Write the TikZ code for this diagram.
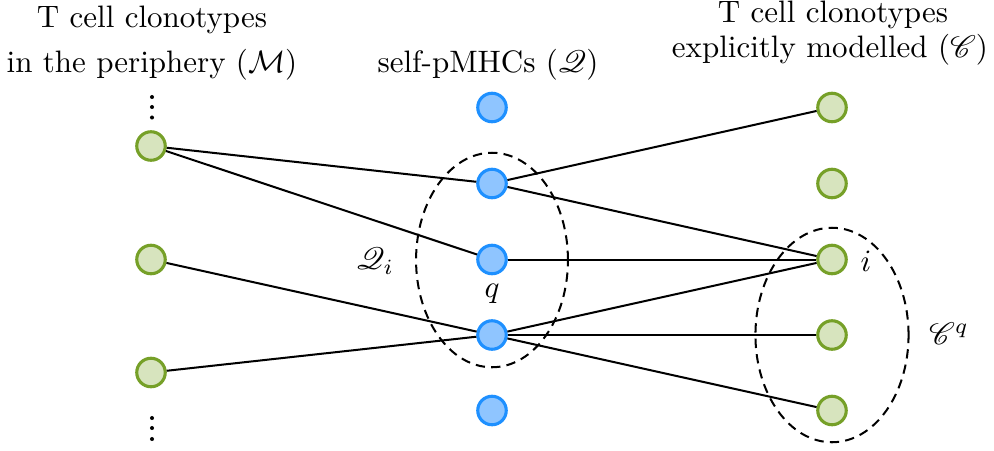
\documentclass[tikz,border=0pt]{standalone}
\usepackage{mathrsfs}
\definecolor{gfill}{RGB}{215,228,190}
\definecolor{gdraw}{RGB}{118,160,40}
\definecolor{bfill}{RGB}{143,197,255}
\definecolor{bdraw}{RGB}{30,144,255}
\tikzset{
  tnode/.style={circle, draw=gdraw, fill=gfill, line width=1pt, minimum size=9.2pt, inner sep=0pt},
  pnode/.style={circle, draw=bdraw, fill=bfill, line width=1pt, minimum size=9.2pt, inner sep=0pt},
  link/.style={line width=0.65pt, black},
  grp/.style={line width=0.65pt, dash pattern=on 3pt off 2pt},
  head/.style={anchor=base, inner sep=0pt, font=\fontsize{10pt}{12pt}\selectfont},
  lbl/.style={inner sep=0pt, font=\fontsize{10pt}{12pt}\selectfont},
  dotmark/.style={circle, fill=black, inner sep=0pt, minimum size=1.3pt}
}
\begin{document}
\begin{tikzpicture}[x=0.3226pt, y=-0.3226pt]
\useasboundingbox (0,0) rectangle (994,450);
% headers
\node[head] (h1a) at (152,27) {T cell clonotypes};
\node[head] (h1b) at (152,72) {in the periphery ($\mathcal{M}$)};
\node[head] (h2) at (488,72) {self-pMHCs ($\mathscr{Q}$)};
\node[head] (h3a) at (833,22) {T cell clonotypes};
\node[head] (h3b) at (830,57) {explicitly modelled ($\mathscr{C}$)};
% vertical ellipses (continuation dots)
\node[dotmark] (da1) at (152,97) {};
\node[dotmark] (da2) at (152,107) {};
\node[dotmark] (da3) at (152,117.5) {};
\node[dotmark] (db1) at (152,418) {};
\node[dotmark] (db2) at (152,428) {};
\node[dotmark] (db3) at (152,439) {};
% groups
\draw[grp] (492,260) ellipse [x radius=24.5pt, y radius=34.6pt];
\draw[grp] (832,335) ellipse [x radius=24.7pt, y radius=34.6pt];
% nodes
\node[tnode] (l1) at (151,146) {};
\node[tnode] (l2) at (151,259.5) {};
\node[tnode] (l3) at (151,372.5) {};
\node[pnode] (m1) at (492,107.5) {};
\node[pnode] (m2) at (492,183.5) {};
\node[pnode] (m3) at (492,259.5) {};
\node[pnode] (m4) at (492,335) {};
\node[pnode] (m5) at (492,410.5) {};
\node[tnode] (r1) at (832,107.5) {};
\node[tnode] (r2) at (832,183.5) {};
\node[tnode] (r3) at (832,259.5) {};
\node[tnode] (r4) at (832,335) {};
\node[tnode] (r5) at (832,410.5) {};
% links
\draw[link] (l1) -- (m2);
\draw[link] (l1) -- (m3);
\draw[link] (l2) -- (m4);
\draw[link] (l3) -- (m4);
\draw[link] (m2) -- (r1);
\draw[link] (m2) -- (r3);
\draw[link] (m3) -- (r3);
\draw[link] (m4) -- (r3);
\draw[link] (m4) -- (r4);
\draw[link] (m4) -- (r5);
% labels
\node[lbl] (lq) at (375,261) {$\mathscr{Q}_i$};
\node[lbl] (lqq) at (492,294) {$q$};
\node[lbl] (li) at (866,261) {$i$};
\node[lbl] (lc) at (949,334) {$\mathscr{C}^q$};
\end{tikzpicture}
\end{document}
